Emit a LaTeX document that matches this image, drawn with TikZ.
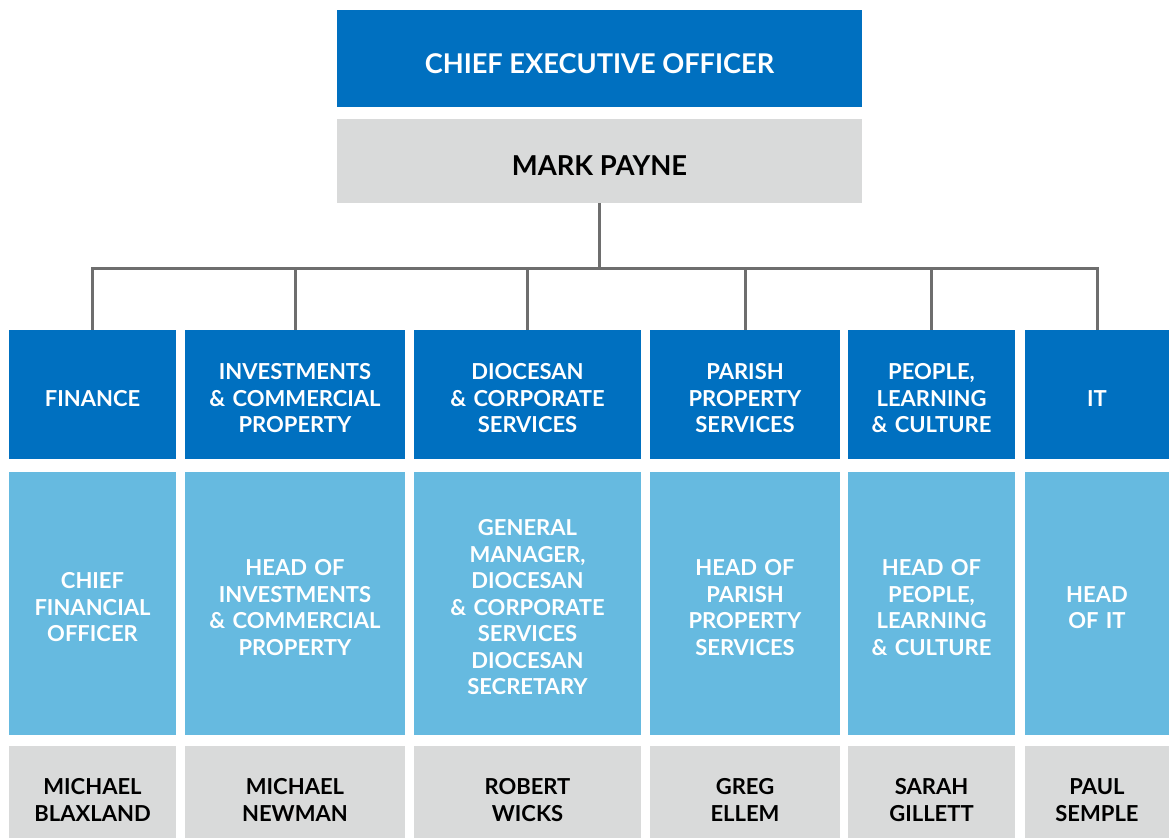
\documentclass[tikz,border=0pt]{standalone}
\usepackage{fontspec}
\setmainfont{Lato}
\usepackage{tikz}

\definecolor{deptblue}{HTML}{0070C0}
\definecolor{roleblue}{HTML}{66BAE0}
\definecolor{namegray}{HTML}{D9DADA}
\definecolor{linegray}{HTML}{6E6E6E}

% push the first line down so the caps sit a little below the middle
\newcommand{\capdrop}[1]{\rule{0pt}{#1}}

\tikzset{
  box/.style={rectangle, inner sep=0pt, align=center, font=\bfseries\fontsize{11}{13.25}\selectfont,
    execute at begin node=\capdrop{11.9pt}},
  top/.style={box, fill=deptblue, text=white, minimum width=262.5pt},
  dept/.style={box, fill=deptblue, text=white, minimum height=64.5pt, minimum width=#1, text width=#1},
  role/.style={box, fill=roleblue, text=white, minimum height=131.5pt, minimum width=#1, text width=#1},
  person/.style={box, fill=namegray, text=black, minimum height=46pt, minimum width=#1, text width=#1,
    execute at begin node=\capdrop{15.9pt}},
  link/.style={draw=linegray, line width=1.5pt}
}

\begin{document}
\begin{tikzpicture}[x=0.5pt, y=-0.5pt]
  \useasboundingbox (0,0) rectangle (1176,838);

  % top of the chart
  \node[top, minimum height=48.5pt, font=\bfseries\fontsize{13.6}{15}\selectfont,
    execute at begin node=\capdrop{14.7pt}] (ceo) at (599.5,58.5) {CHIEF EXECUTIVE OFFICER};
  \node[top, fill=namegray, text=black, minimum height=42pt, font=\bfseries\fontsize{13.7}{15}\selectfont,
    execute at begin node=\capdrop{14.9pt}] (ceoname) at (599.5,161) {MARK PAYNE};

  % departments
  \node[dept=83.5pt]  (fin) at (92.5,394.5)  {FINANCE};
  \node[dept=110pt]   (inv) at (295,394.5)   {INVESTMENTS\\ \& COMMERCIAL\\ PROPERTY};
  \node[dept=113.5pt] (dio) at (527.5,394.5) {DIOCESAN\\ \& CORPORATE\\ SERVICES};
  \node[dept=95pt]    (par) at (745,394.5)   {PARISH\\ PROPERTY\\ SERVICES};
  \node[dept=83.5pt]  (peo) at (931.5,394.5) {PEOPLE,\\ LEARNING\\ \& CULTURE};
  \node[dept=72pt]    (it)  at (1097,394.5)  {IT};

  % roles
  \node[role=83.5pt]  (finrole) at (92.5,603.5)  {CHIEF\\ FINANCIAL\\ OFFICER};
  \node[role=110pt]   (invrole) at (295,603.5)   {HEAD OF\\ INVESTMENTS\\ \& COMMERCIAL\\ PROPERTY};
  \node[role=113.5pt] (diorole) at (527.5,603.5) {GENERAL\\ MANAGER,\\ DIOCESAN\\ \& CORPORATE\\ SERVICES\\ DIOCESAN\\ SECRETARY};
  \node[role=95pt]    (parrole) at (745,603.5)   {HEAD OF\\ PARISH\\ PROPERTY\\ SERVICES};
  \node[role=83.5pt]  (peorole) at (931.5,603.5) {HEAD OF\\ PEOPLE,\\ LEARNING\\ \& CULTURE};
  \node[role=72pt]    (itrole)  at (1097,603.5)  {HEAD\\ OF IT};

  % names
  \node[person=83.5pt]  (finname) at (92.5,792)  {MICHAEL\\ BLAXLAND};
  \node[person=110pt]   (invname) at (295,792)   {MICHAEL\\ NEWMAN};
  \node[person=113.5pt] (dioname) at (527.5,792) {ROBERT\\ WICKS};
  \node[person=95pt]    (parname) at (745,792)   {GREG\\ ELLEM};
  \node[person=83.5pt]  (peoname) at (931.5,792) {SARAH\\ GILLETT};
  \node[person=72pt]    (itname)  at (1097,792)  {PAUL\\ SEMPLE};

  % connectors
  \coordinate (bus) at (599.5,269);
  \draw[link] (ceoname.south) -- (bus);
  \draw[link] (fin.north) |- (bus) -| (it.north);
  \foreach \d in {inv,dio,par,peo}
    \draw[link] (\d.north) -- (\d.north |- bus);
\end{tikzpicture}
\end{document}
